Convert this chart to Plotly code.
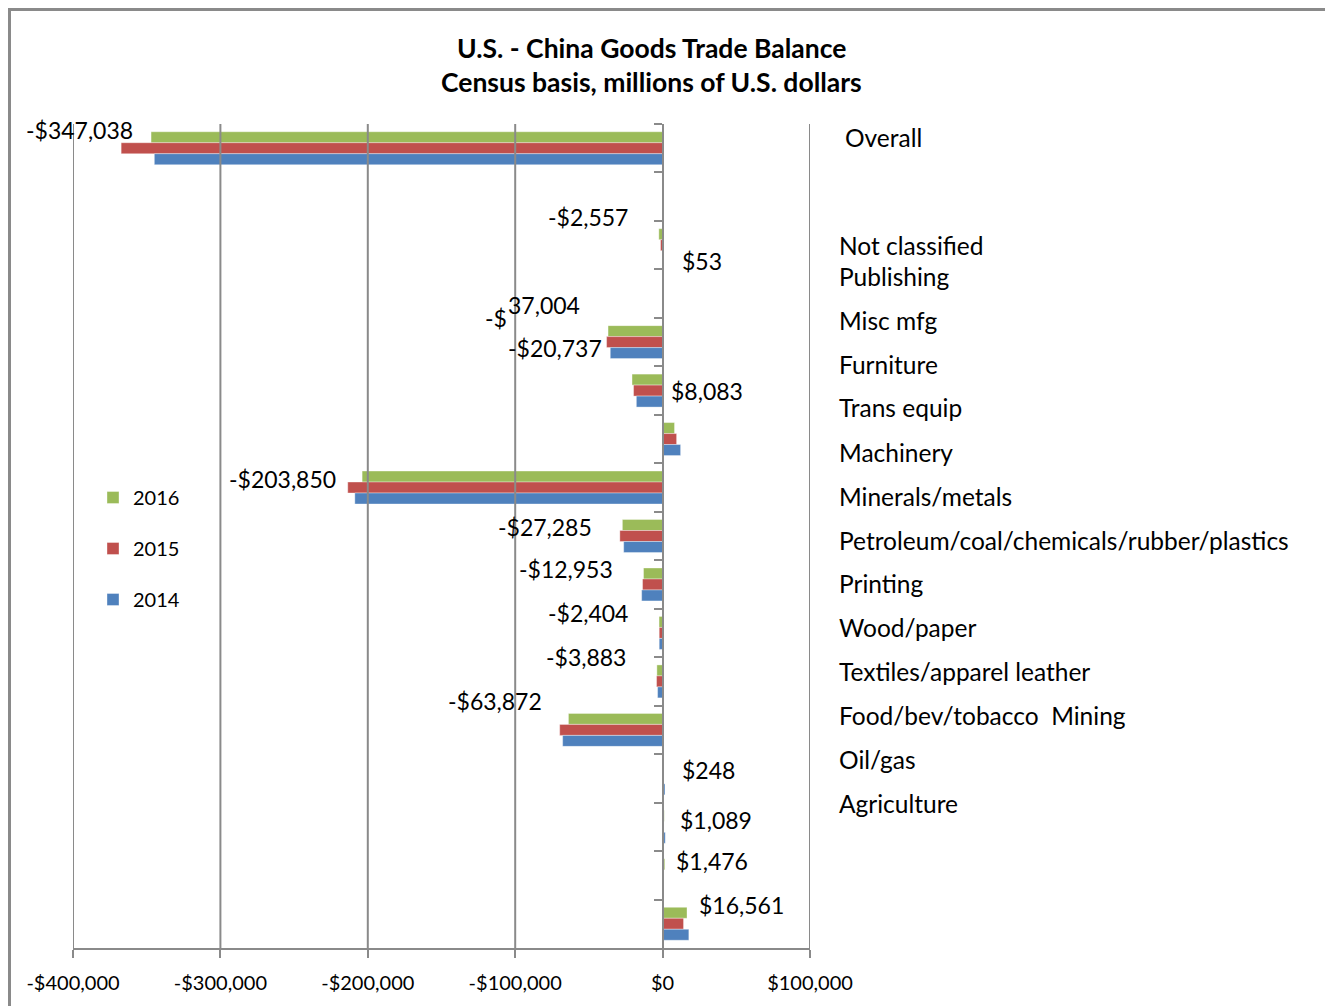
import plotly.graph_objects as go

# ---------------- data ----------------
categories = ["Overall", " ", "Not classified", "Publishing", "Misc mfg", "Furniture",
              "Trans equip", "Machinery", "Minerals/metals",
              "Petroleum/coal/chemicals/rubber/plastics", "Printing", "Wood/paper",
              "Textiles/apparel leather", "Food/bev/tobacco", "Mining", "Oil/gas", "Agriculture"]
v2016 = [-347038, None, -2557, 53, -37004, -20737, 8083, -203850, -27285, -12953,
         -2404, -3883, -63872, 248, 1089, 1476, 16561]
v2015 = [-367328, None, -1400, 40, -38000, -19700, 9500, -213600, -29000, -13600,
         -2300, -4100, -69800, 700, 800, 900, 14200]
v2014 = [-344818, None, -200, 30, -35500, -17800, 12200, -208800, -26400, -14200,
         -2300, -3400, -67800, 1600, 1800, 50, 17800]

x_tickvals = [-400000, -300000, -200000, -100000, 0, 100000]
x_ticktext = ["-$400,000", "-$300,000", "-$200,000", "-$100,000", "$0", "$100,000"]

side_labels = ["Overall", "Not classified", "Publishing", "Misc mfg", "Furniture", "Trans equip",
               "Machinery", "Minerals/metals", "Petroleum/coal/chemicals/rubber/plastics",
               "Printing", "Wood/paper", "Textiles/apparel leather", "Food/bev/tobacco  Mining",
               "Oil/gas", "Agriculture"]

# ---------------- layout constants (page pixels) ----------------
W, H = 1333, 1006
OFF = 8                                     # page body margin
PL, PR, PT, PB = 73, 810, 124, 948          # plot area edges on the page
side_y_px = [137, 245, 276, 320, 364, 408, 452, 496, 540, 583, 627, 671, 715, 759, 803]
side_x_px = [843] + [837] * 14
# data label offsets (xshift, yshift) relative to the 2016 bar end at category centre
label_offsets = [(-16, 18), None, (-29, 28), (17, 33), (-28, 37), (-28, 43), (-6, 48),
                 (-24, 9), (-28, 9), (-29, 15), (-29, 20), (-29, 24), (-24, 29),
                 (17, 8), (14, 7), (9, 14), (10, 19)]

FONT = "Lato, 'Open Sans', sans-serif"
GRAY = "#8a8a8a"
XMIN, XMAX = x_tickvals[0], x_tickvals[-1]
LBL = 23

def px_x(p):
    return (p - PL) / (PR - PL)

def px_y(p):
    return (PB - p) / (PB - PT)

def fmt(v):
    return ("-$" if v < 0 else "$") + f"{abs(v):,}"

fig = go.Figure()
series = [("2016", v2016, "#9BBB59"), ("2015", v2015, "#C0504D"), ("2014", v2014, "#4F81BD")]
for name, vals, col in series:
    fig.add_trace(go.Bar(
        y=categories, x=vals, name=name, orientation="h",
        marker=dict(color=col, line=dict(color="rgba(255,255,255,0.6)", width=0.6)),
        legendgroup=name,
    ))

annotations = []
# title
annotations.append(dict(text="<b>U.S. - China Goods Trade Balance</b>", xref="paper", yref="paper",
                        x=px_x(651), y=px_y(48), showarrow=False, xanchor="center", yanchor="middle",
                        font=dict(family=FONT, size=26.5, color="#000")))
annotations.append(dict(text="<b>Census basis, millions of U.S. dollars</b>", xref="paper", yref="paper",
                        x=px_x(651), y=px_y(82), showarrow=False, xanchor="center", yanchor="middle",
                        font=dict(family=FONT, size=26.5, color="#000")))

# side category text block
for lab, yp, xp in zip(side_labels, side_y_px, side_x_px):
    annotations.append(dict(text=lab, xref="paper", yref="paper", x=px_x(xp), y=px_y(yp),
                            showarrow=False, xanchor="left", yanchor="middle",
                            font=dict(family=FONT, size=24.5, color="#000")))

# data labels for 2016
for cat, v, off in zip(categories, v2016, label_offsets):
    if v is None or off is None:
        continue
    txt = fmt(v)
    anchor = "right" if v < 0 else "left"
    if cat == "Misc mfg":
        # label wrapped in the original: "-$" sits lower-left of the number
        annotations.append(dict(text=txt[2:], x=v, y=cat, xref="x", yref="y", showarrow=False,
                                xanchor="right", yanchor="middle", xshift=-26, yshift=37,
                                font=dict(family=FONT, size=LBL, color="#000")))
        annotations.append(dict(text=txt[:2], x=v, y=cat, xref="x", yref="y", showarrow=False,
                                xanchor="right", yanchor="middle", xshift=-99, yshift=24,
                                font=dict(family=FONT, size=LBL, color="#000")))
        continue
    annotations.append(dict(text=txt, x=v, y=cat, xref="x", yref="y", showarrow=False,
                            xanchor=anchor, yanchor="middle", xshift=off[0], yshift=off[1],
                            font=dict(family=FONT, size=LBL, color="#000")))

shapes = []
# vertical gridlines drawn above bars (as in the original)
for tv in x_tickvals:
    if tv == 0:
        continue
    shapes.append(dict(type="line", xref="x", yref="paper", x0=tv, x1=tv, y0=0, y1=1,
                       line=dict(color=GRAY, width=2), layer="above"))
# outer chart border
shapes.append(dict(type="rect", xref="paper", yref="paper", x0=px_x(OFF + 1.5), x1=px_x(1329),
                   y0=px_y(1030), y1=px_y(OFF + 1.5), line=dict(color=GRAY, width=3),
                   fillcolor="rgba(0,0,0,0)", layer="above"))

n_cat = len(categories)
fig.update_layout(
    width=W - OFF, height=H - OFF,
    margin=dict(l=PL - OFF, r=W - PR, t=PT - OFF, b=H - PB, pad=0),
    paper_bgcolor="white", plot_bgcolor="white",
    barmode="group", bargap=0.32, bargroupgap=0,
    font=dict(family=FONT, color="#000"),
    showlegend=True,
    legend=dict(x=px_x(93), y=px_y(478), xanchor="left", yanchor="top",
                traceorder="grouped", tracegroupgap=22, bgcolor="rgba(0,0,0,0)",
                font=dict(family=FONT, size=20, color="#000")),
    xaxis=dict(range=[XMIN, XMAX], tickvals=x_tickvals, ticktext=x_ticktext,
               showgrid=False, zeroline=False, showline=True, linecolor=GRAY, linewidth=2,
               ticks="outside", ticklen=8, tickwidth=2, tickcolor=GRAY, ticklabelstandoff=8,
               tickfont=dict(family=FONT, size=20, color="#000")),
    yaxis=dict(type="category", categoryorder="array", categoryarray=categories,
               range=[n_cat - 0.5, -0.5], autorange=False, anchor="free",
               position=(0 - XMIN) / (XMAX - XMIN),
               showline=True, linecolor=GRAY, linewidth=2, layer="above traces",
               ticks="outside", tickson="boundaries", ticklen=8, tickwidth=2, tickcolor=GRAY,
               showticklabels=False, showgrid=False, zeroline=False),
    annotations=annotations, shapes=shapes,
)

fig.write_html("out.html")
